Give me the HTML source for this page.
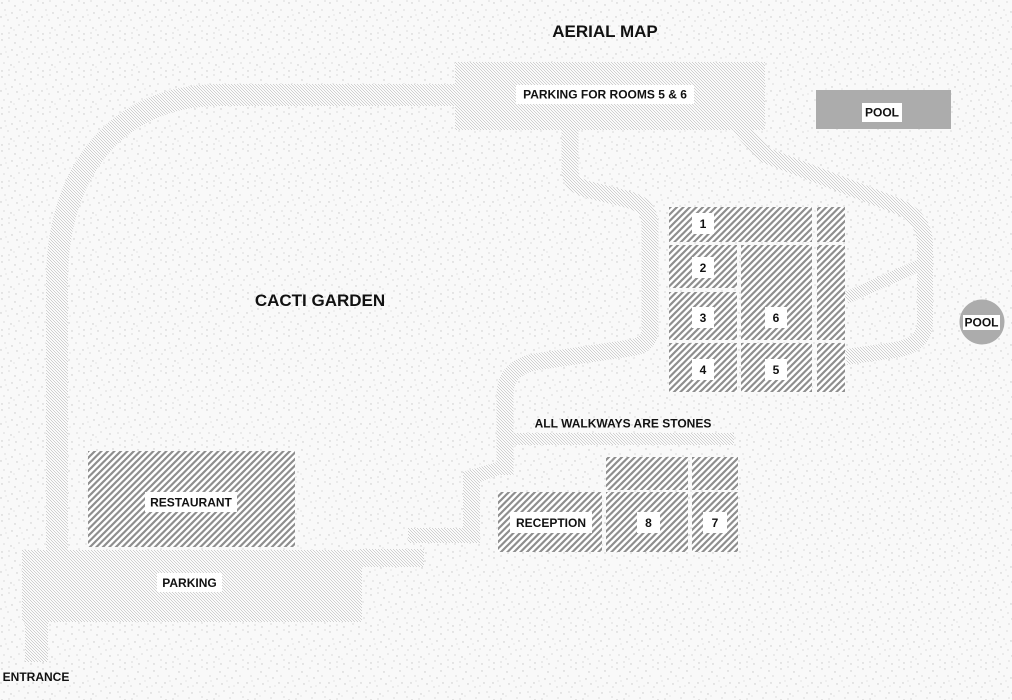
<!DOCTYPE html>
<html><head><meta charset="utf-8"><style>
html,body{margin:0;padding:0;background:#fff;}
svg{display:block;}
text{font-family:"Liberation Sans",Arial,sans-serif;font-weight:bold;fill:#111;}
</style></head><body>
<svg width="1012" height="700" viewBox="0 0 1012 700" xmlns="http://www.w3.org/2000/svg">
<defs>
<pattern id="sp" width="41" height="37" patternUnits="userSpaceOnUse">
<rect width="41" height="37" fill="#f9f9f9"/>
<g fill="#c6c6c6">
<circle cx="2" cy="3" r="0.7"/><circle cx="9" cy="1" r="0.6"/><circle cx="15" cy="6" r="0.7"/><circle cx="23" cy="2" r="0.6"/><circle cx="31" cy="5" r="0.7"/><circle cx="38" cy="1" r="0.6"/>
<circle cx="5" cy="10" r="0.6"/><circle cx="12" cy="13" r="0.7"/><circle cx="20" cy="10" r="0.6"/><circle cx="27" cy="12" r="0.7"/><circle cx="35" cy="10" r="0.6"/>
<circle cx="1" cy="17" r="0.7"/><circle cx="8" cy="20" r="0.6"/><circle cx="17" cy="18" r="0.7"/><circle cx="24" cy="21" r="0.6"/><circle cx="33" cy="17" r="0.7"/><circle cx="39" cy="21" r="0.6"/>
<circle cx="4" cy="26" r="0.6"/><circle cx="11" cy="28" r="0.7"/><circle cx="19" cy="25" r="0.6"/><circle cx="28" cy="27" r="0.7"/><circle cx="36" cy="26" r="0.6"/>
<circle cx="2" cy="34" r="0.7"/><circle cx="9" cy="33" r="0.6"/><circle cx="16" cy="35" r="0.7"/><circle cx="25" cy="32" r="0.6"/><circle cx="31" cy="35" r="0.7"/><circle cx="38" cy="31" r="0.6"/>
<circle cx="14" cy="30" r="0.5"/><circle cx="29" cy="20" r="0.5"/><circle cx="6" cy="15" r="0.5"/><circle cx="22" cy="15" r="0.5"/>
</g>
</pattern>
<pattern id="wk" width="3" height="3" patternUnits="userSpaceOnUse">
<rect width="3" height="3" fill="#fff"/>
<path d="M-1 -1 L4 4 M-1 2 L1 4 M2 -1 L4 1" stroke="#b4b4b4" stroke-width="0.55"/>
</pattern>
<pattern id="bh" width="6.5" height="6.5" patternUnits="userSpaceOnUse">
<rect width="6.5" height="6.5" fill="#fff"/>
<path d="M0 6.5 L6.5 0 M-3.25 3.25 L3.25 -3.25 M3.25 9.75 L9.75 3.25" stroke="#8e8e8e" stroke-width="2.2"/>
</pattern>
</defs>

<rect width="1012" height="700" fill="url(#sp)"/>

<!-- walkways -->
<g fill="url(#wk)">
<rect x="22" y="550" width="340" height="72"/>
<rect x="25" y="618" width="23" height="44"/>
<rect x="455" y="62" width="310" height="68"/>
<rect x="360" y="549" width="64" height="18"/>
<rect x="408" y="528" width="72" height="15"/>
<rect x="463" y="472" width="17" height="71"/>
<rect x="510" y="433" width="224" height="12"/>
<polygon points="463,472 497,462 513,470 480,482"/>
</g>
<g fill="none" stroke="url(#wk)" stroke-linejoin="round">
<path d="M57 552 L57 280 C57 180 110 95 220 95 L457 95" stroke-width="22"/>
<path d="M570 128 L570 170 Q570 186 590 190 L630 200 Q650 206 650 225 L650 330 Q650 345 630 348 L535 362 Q505 368 505 395 L505 475" stroke-width="17"/>
<path d="M738 126 L765 155 L895 205 Q925 217 925 245 L925 322 Q925 345 895 350 L846 357" stroke-width="16"/>
<path d="M846 298 L920 265" stroke-width="12"/>
</g>

<!-- buildings -->
<g fill="url(#bh)">
<rect x="669" y="207" width="143" height="35"/>
<rect x="817" y="207" width="28" height="35"/>
<rect x="669" y="245" width="68" height="43"/>
<rect x="669" y="292" width="68" height="48"/>
<rect x="741" y="245" width="71" height="95"/>
<rect x="817" y="245" width="28" height="95"/>
<rect x="669" y="343" width="68" height="49"/>
<rect x="741" y="343" width="71" height="49"/>
<rect x="817" y="343" width="28" height="49"/>
<rect x="88" y="451" width="207" height="96"/>
<rect x="498" y="492" width="104" height="60"/>
<rect x="606" y="492" width="82" height="60"/>
<rect x="692" y="492" width="46" height="60"/>
<rect x="606" y="457" width="82" height="33"/>
<rect x="692" y="457" width="46" height="33"/>
</g>

<!-- pools -->
<rect x="816" y="90" width="135" height="39" fill="#acacac"/>
<circle cx="982" cy="322" r="22.5" fill="#acacac"/>

<!-- label boxes -->
<g fill="#fff">
<rect x="516" y="85" width="178" height="19"/>
<rect x="157" y="573" width="65" height="19"/>
<rect x="145" y="492" width="92" height="20"/>
<rect x="510" y="512" width="82" height="21"/>
<rect x="637" y="512" width="23" height="21"/>
<rect x="703" y="512" width="24" height="21"/>
<rect x="692" y="213" width="22" height="21"/>
<rect x="692" y="257" width="22" height="21"/>
<rect x="692" y="307" width="22" height="21"/>
<rect x="765" y="307" width="22" height="21"/>
<rect x="692" y="359" width="22" height="21"/>
<rect x="765" y="359" width="22" height="21"/>
<rect x="862" y="103" width="40" height="19"/>
<rect x="963" y="315" width="37" height="15"/>
</g>

<!-- text -->
<g text-anchor="middle" font-size="12">
<text x="605" y="37" font-size="17">AERIAL MAP</text>
<text x="320" y="306" font-size="17">CACTI GARDEN</text>
<text x="605" y="98.5">PARKING FOR ROOMS 5 &amp; 6</text>
<text x="189.5" y="587">PARKING</text>
<text x="191" y="506.5">RESTAURANT</text>
<text x="551" y="527">RECEPTION</text>
<text x="648.5" y="527">8</text>
<text x="715" y="527">7</text>
<text x="703" y="228">1</text>
<text x="703" y="272">2</text>
<text x="703" y="322">3</text>
<text x="776" y="322">6</text>
<text x="703" y="374">4</text>
<text x="776" y="374">5</text>
<text x="623" y="427.5">ALL WALKWAYS ARE STONES</text>
<text x="882" y="116.5">POOL</text>
<text x="981.5" y="326.5">POOL</text>
<text x="36" y="681">ENTRANCE</text>
</g>
</svg>
</body></html>
